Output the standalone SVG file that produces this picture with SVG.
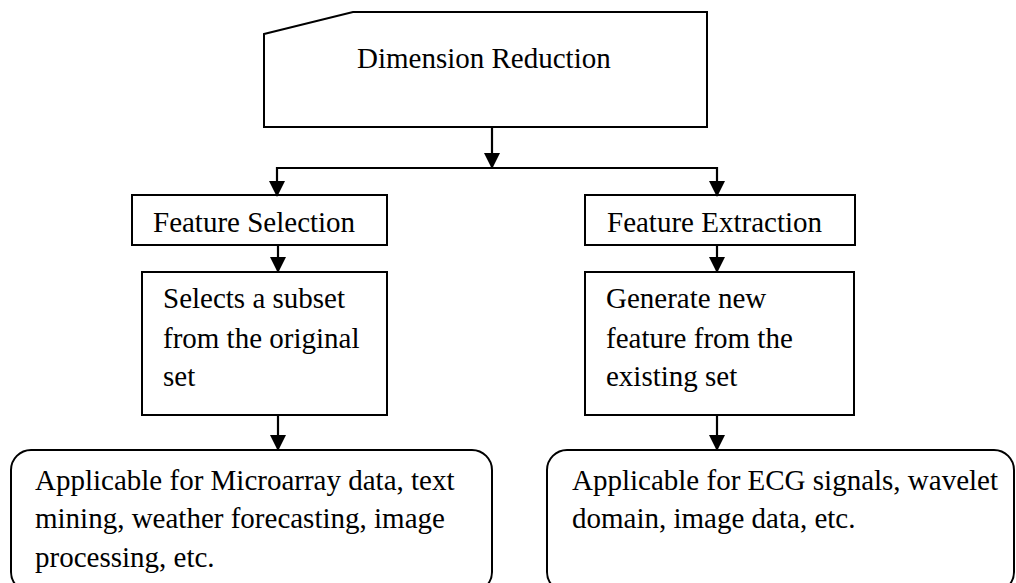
<svg xmlns="http://www.w3.org/2000/svg" width="1016" height="583" viewBox="0 0 1016 583">
  <style>
    .box { fill: #ffffff; stroke: #000000; stroke-width: 2; }
    .label { font-family: "Liberation Serif", "Times New Roman", serif; font-size: 29px; fill: #000000; }
    .wire { fill: none; stroke: #000000; stroke-width: 2.2; }
  </style>
  <defs>
    <marker id="arrow" viewBox="0 0 16 16" refX="15" refY="8" markerWidth="16" markerHeight="16" markerUnits="userSpaceOnUse" orient="auto">
      <path d="M0,0 L16,8 L0,16 Z" fill="#000000"/>
    </marker>
  </defs>
  <rect width="1016" height="583" fill="#ffffff"/>

  <!-- Root: manual-input style shape -->
  <g id="dimension-reduction">
    <path class="box" d="M264,34 L353,12 L707,12 L707,127 L264,127 Z"/>
    <text class="label" x="357" y="68">Dimension Reduction</text>
  </g>

  <!-- Left branch -->
  <g id="feature-selection">
    <rect class="box" x="132" y="195" width="255" height="50"/>
    <text class="label" x="153" y="232">Feature Selection</text>
  </g>
  <g id="selection-desc">
    <rect class="box" x="142" y="272" width="245" height="143"/>
    <text class="label" x="163" y="308">Selects a subset</text>
    <text class="label" x="163" y="348">from the original</text>
    <text class="label" x="163" y="386">set</text>
  </g>
  <g id="selection-uses">
    <rect class="box" x="11" y="450" width="481" height="142" rx="20" ry="20"/>
    <text class="label" x="35" y="490">Applicable for Microarray data, text</text>
    <text class="label" x="35" y="528">mining, weather forecasting, image</text>
    <text class="label" x="35" y="567">processing, etc.</text>
  </g>

  <!-- Right branch -->
  <g id="feature-extraction">
    <rect class="box" x="585" y="195" width="270" height="50"/>
    <text class="label" x="607" y="232">Feature Extraction</text>
  </g>
  <g id="extraction-desc">
    <rect class="box" x="585" y="272" width="269" height="143"/>
    <text class="label" x="606" y="308">Generate new</text>
    <text class="label" x="606" y="348">feature from the</text>
    <text class="label" x="606" y="386">existing set</text>
  </g>
  <g id="extraction-uses">
    <rect class="box" x="547" y="450" width="467" height="142" rx="20" ry="20"/>
    <text class="label" x="572" y="490">Applicable for ECG signals, wavelet</text>
    <text class="label" x="572" y="528">domain, image data, etc.</text>
  </g>

  <!-- Connectors -->
  <g id="connectors">
    <path class="wire" d="M492,127 L492,168" marker-end="url(#arrow)"/>
    <path class="wire" d="M277,168 L717,168"/>
    <path class="wire" d="M277,167 L277,196" marker-end="url(#arrow)"/>
    <path class="wire" d="M717,167 L717,196" marker-end="url(#arrow)"/>
    <path class="wire" d="M278,245 L278,272" marker-end="url(#arrow)"/>
    <path class="wire" d="M717,245 L717,272" marker-end="url(#arrow)"/>
    <path class="wire" d="M278,415 L278,450" marker-end="url(#arrow)"/>
    <path class="wire" d="M717,415 L717,450" marker-end="url(#arrow)"/>
  </g>
</svg>
